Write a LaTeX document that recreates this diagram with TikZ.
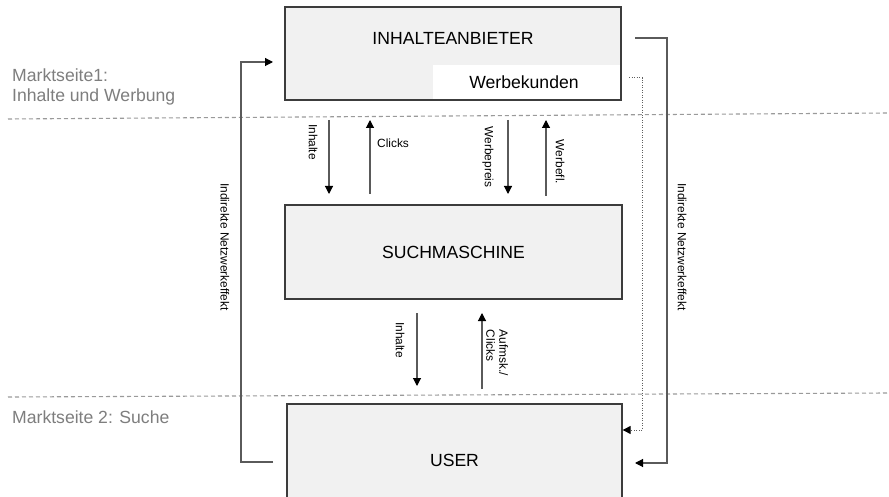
\documentclass[tikz,border=0pt]{standalone}
\usepackage{fontspec}
\setmainfont{Liberation Sans}
\usetikzlibrary{arrows.meta,calc}
\definecolor{boxfill}{HTML}{F1F1F1}
\definecolor{boxline}{HTML}{3C3C3C}
\definecolor{conn}{HTML}{5A5A5A}
\definecolor{sidegray}{HTML}{7E7E7E}
\definecolor{dashgray}{HTML}{9A9A9A}
\definecolor{dotgray}{HTML}{5E5E5E}
\tikzset{
  bigbox/.style={draw=boxline,fill=boxfill,line width=1.3pt,inner sep=0pt},
  bigtxt/.style={font=\fontsize{17.6}{19}\selectfont,inner sep=0pt,text=black},
  sidetxt/.style={font=\fontsize{17.6}{21}\selectfont,text=sidegray,inner sep=0pt,anchor=west},
  smalltxt/.style={font=\fontsize{11.9}{13}\selectfont,inner sep=0pt,text=black},
  rot/.style={rotate=-90},
  flow/.style={draw=conn,line width=1.1pt,-{Triangle[length=8pt,width=8pt,color=black]}},
  dotflow/.style={draw=dotgray,line width=1pt,dash pattern=on 1pt off 1.5pt,-{Triangle[length=8pt,width=8pt,color=black]}},
  sep/.style={draw=dashgray,line width=1.1pt,dash pattern=on 4pt off 3pt}
}
\begin{document}
\begin{tikzpicture}[x=1pt,y=-1pt]
\clip (0,0) rectangle (889,497);
\fill[white] (0,0) rectangle (889,497);
% separators
\draw[sep] (8,119) -- (889,113);
\draw[sep] (8,397) -- (889,393);
% side labels
\node[sidetxt] (m1a) at (12,75) {Marktseite1:};
\node[sidetxt] (m1b) at (12,97) {Inhalte und Werbung};
\node[sidetxt] (m2) at (12,417) {Marktseite 2: Suche};
% boxes
\node[bigbox,minimum width=336pt,minimum height=93pt] (ia) at (453,53.5) {};
\node[fill=white,inner sep=0pt,minimum width=187pt,minimum height=34.5pt] (wk) at (526.7,82.2) {};
\node[bigtxt] (iat) at (453,38) {INHALTEANBIETER};
\node[bigtxt] (wkt) at (524,82) {Werbekunden};
\node[bigbox,minimum width=337pt,minimum height=94pt] (sm) at (453.5,252) {};
\node[bigtxt] (smt) at (453.5,252) {SUCHMASCHINE};
\node[bigbox,minimum width=335pt,minimum height=120pt] (us) at (454.5,464) {};
\node[bigtxt] (ust) at (454.5,460) {USER};
% arrows top <-> middle
\coordinate (a1s) at (329,120); \coordinate (a1e) at (329,194);
\coordinate (a2s) at (370,194); \coordinate (a2e) at (370,120);
\coordinate (a3s) at (508,120); \coordinate (a3e) at (508,194);
\coordinate (a4s) at (546,196); \coordinate (a4e) at (546,120);
\draw[flow] (a1s) -- (a1e);
\draw[flow] (a2s) -- (a2e);
\draw[flow] (a3s) -- (a3e);
\draw[flow] (a4s) -- (a4e);
\node[smalltxt,rot] (l1) at (313,142) {Inhalte};
\node[smalltxt,anchor=west] (l2) at (377,143) {Clicks};
\node[smalltxt,rot] (l3) at (488,157) {Werbepreis};
\node[smalltxt,rot] (l4) at (560,162) {Werbefl.};
% arrows middle <-> user
\coordinate (b1s) at (417,313); \coordinate (b1e) at (417,386);
\coordinate (b2s) at (482,389); \coordinate (b2e) at (482,313);
\draw[flow] (b1s) -- (b1e);
\draw[flow] (b2s) -- (b2e);
\node[smalltxt,rot] (l5) at (400,340) {Inhalte};
\node[smalltxt,rot,align=left] (l6) at (497,353) {Aufmsk./\\Clicks};
% indirect effects
\coordinate (c1s) at (273,462); \coordinate (c1a) at (241,462);
\coordinate (c1b) at (241,62); \coordinate (c1e) at (273,62);
\draw[flow] (c1s) -- (c1a) -- (c1b) -- (c1e);
\node[smalltxt,rot] (l7) at (225,247) {Indirekte Netzwerkeffekt};
\coordinate (c2s) at (635,38); \coordinate (c2a) at (667,38);
\coordinate (c2b) at (667,463); \coordinate (c2e) at (635,463);
\draw[flow] (c2s) -- (c2a) -- (c2b) -- (c2e);
\node[smalltxt,rot] (l8) at (682,247) {Indirekte Netzwerkeffekt};
\coordinate (d1s) at (629,78); \coordinate (d1a) at (642,78);
\coordinate (d1b) at (642,430);
\draw[dotflow] (d1s) -- (d1a) -- (d1b) -- (d1b -| us.east);
\end{tikzpicture}
\end{document}
